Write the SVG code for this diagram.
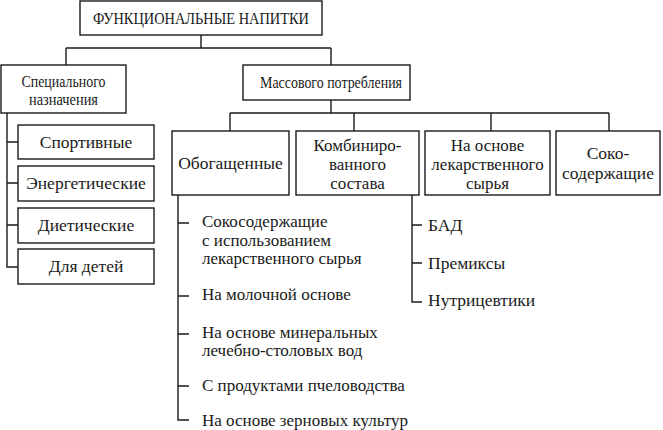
<svg xmlns="http://www.w3.org/2000/svg" width="663" height="430" viewBox="0 0 663 430">
<style>
.b{fill:#fff;stroke:#1a1a1a;stroke-width:1.4}
.l{fill:none;stroke:#1a1a1a;stroke-width:1.4}
.t{font-family:'Liberation Serif','DejaVu Serif',serif;font-size:17.5px;fill:#1a1a1a}
.s{font-size:16px}
.m{font-size:17px}
.c{text-anchor:middle}
</style>
<rect width="663" height="430" fill="#fff"/>
<g id="connectors" class="l">
<path d="M201,35V48M66,48H331M66,48V65M331,48V65"/>
<path d="M331,100V113M230,113H609M230,113V131M354,113V131M491,113V131M609,113V131"/>
<path d="M7,113V267H18M7,142H18M7,183H18M7,225H18"/>
<path d="M178,195V420H189M178,223H189M178,296H189M178,334H189M178,386H189"/>
<path d="M412,195V302H422M412,225H422M412,263H422"/>
</g>
<g class="t">
<g id="root"><rect class="b" x="80" y="1" width="242" height="34"/><text class="c s" x="201" y="24" textLength="216" lengthAdjust="spacingAndGlyphs">ФУНКЦИОНАЛЬНЫЕ НАПИТКИ</text></g>
<g id="special"><rect class="b" x="1" y="65" width="125" height="48"/><text class="c s" x="63.5" y="87" textLength="84" lengthAdjust="spacingAndGlyphs">Специального</text><text class="c s" x="63.5" y="105" textLength="69" lengthAdjust="spacingAndGlyphs">назначения</text></g>
<g id="mass"><rect class="b" x="243" y="65" width="167" height="35"/><text class="c s" x="331" y="88" textLength="142" lengthAdjust="spacingAndGlyphs">Массового потребления</text></g>
<g id="sport"><rect class="b" x="18" y="125" width="136" height="34"/><text class="c" x="86" y="148">Спортивные</text></g>
<g id="energy"><rect class="b" x="18" y="166" width="136" height="35"/><text class="c" x="86" y="189">Энергетические</text></g>
<g id="diet"><rect class="b" x="18" y="208" width="136" height="35"/><text class="c" x="86" y="231">Диетические</text></g>
<g id="kids"><rect class="b" x="18" y="249" width="136" height="35"/><text class="c" x="86" y="272">Для детей</text></g>
<g id="enriched"><rect class="b" x="172" y="131" width="117" height="64"/><text class="c" x="230.5" y="169">Обогащенные</text></g>
<g id="combined"><rect class="b" x="296" y="131" width="123" height="64"/><text class="c m" x="357.5" y="151">Комбиниро-</text><text class="c m" x="357.5" y="170">ванного</text><text class="c m" x="357.5" y="189">состава</text></g>
<g id="medicinal"><rect class="b" x="425" y="131" width="125" height="64"/><text class="c m" x="487.5" y="151">На основе</text><text class="c m" x="487.5" y="170">лекарственного</text><text class="c m" x="487.5" y="189">сырья</text></g>
<g id="juice"><rect class="b" x="556" y="131" width="104" height="64"/><text class="c" x="608" y="159">Соко-</text><text class="c" x="608" y="179">содержащие</text></g>
<g id="enriched-list" class="m">
<text x="202" y="227">Сокосодержащие</text>
<text x="202" y="245.5">с использованием</text>
<text x="202" y="264">лекарственного сырья</text>
<text x="202" y="300">На молочной основе</text>
<text x="202" y="338">На основе минеральных</text>
<text x="202" y="356">лечебно-столовых вод</text>
<text x="202" y="391">С продуктами пчеловодства</text>
<text x="202" y="426">На основе зерновых культур</text>
</g>
<g id="combined-list">
<text x="428" y="231">БАД</text>
<text x="428" y="269">Премиксы</text>
<text x="428" y="306">Нутрицевтики</text>
</g>
</g>
</svg>
